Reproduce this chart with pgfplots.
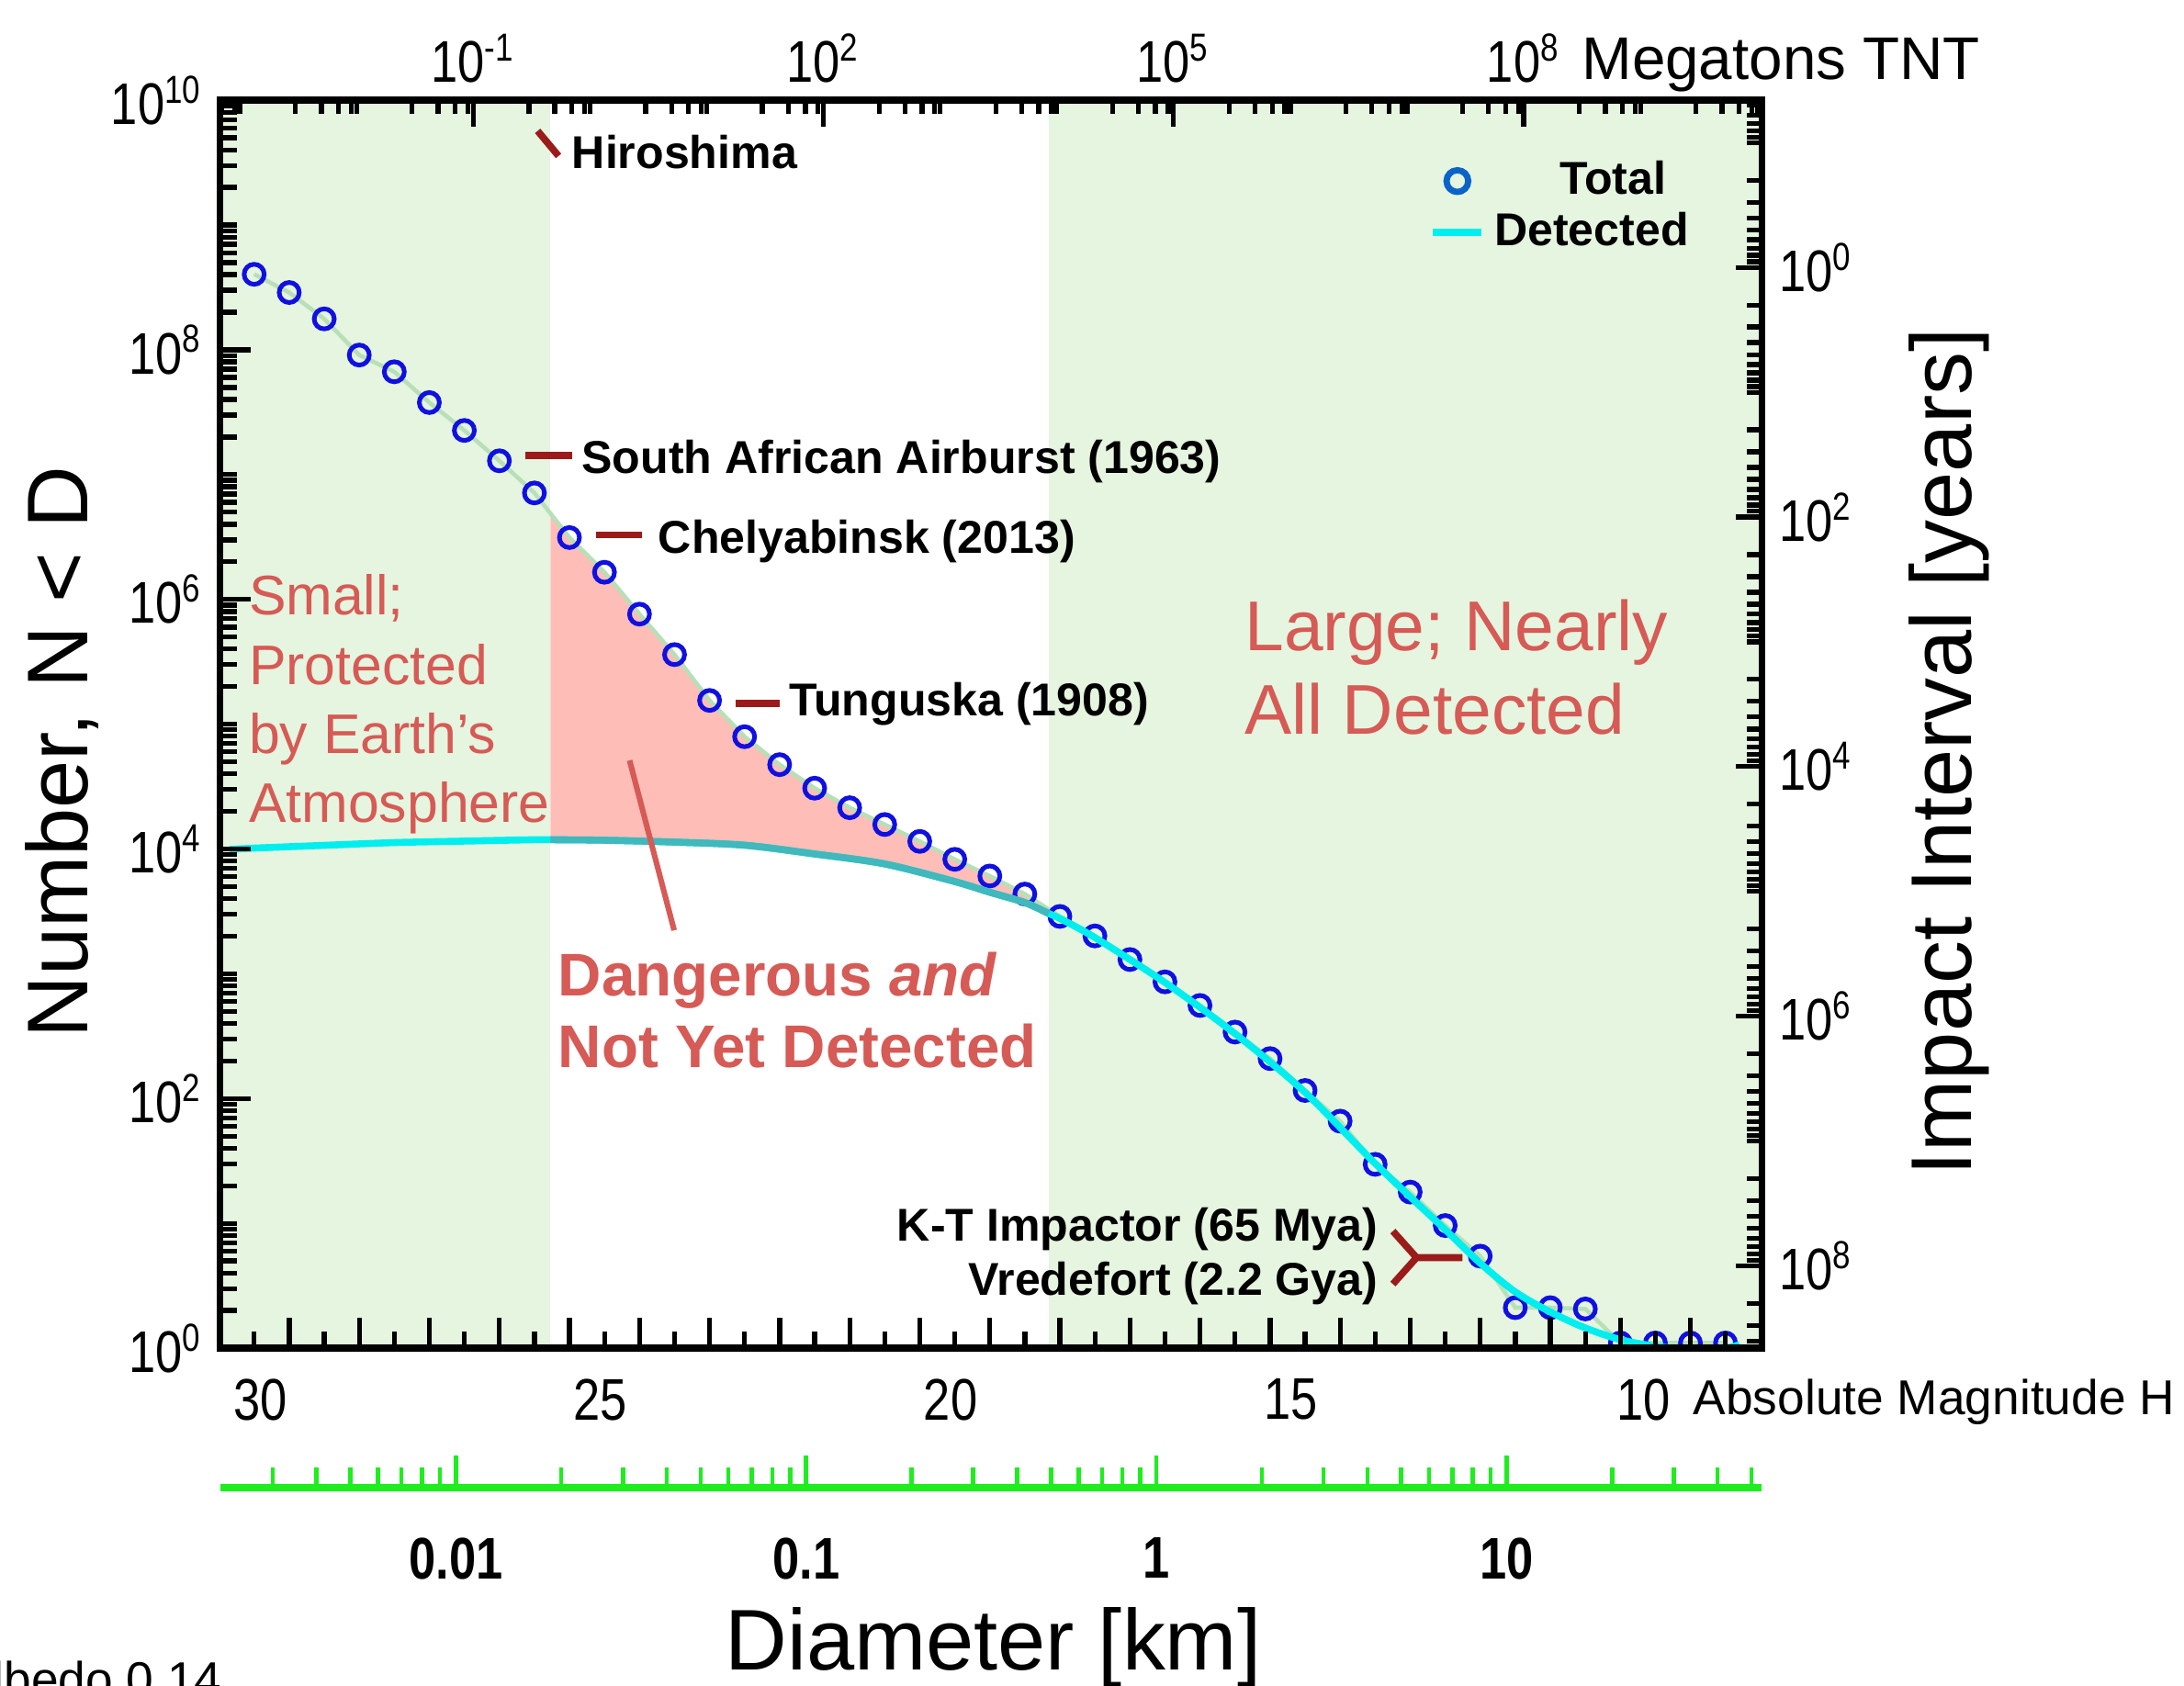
\documentclass[border=0pt]{standalone}
\usepackage{fontspec}
\setmainfont{Liberation Sans}
\newfontfamily\narrowfont[FakeStretch=0.82]{Liberation Sans}
\usepackage{pgfplots}
\pgfplotsset{compat=1.18}
\usepackage{pgfplotstable}

\definecolor{bggreen}{HTML}{E5F5DF}
\definecolor{pinkfill}{HTML}{FFBDB7}
\definecolor{cyanline}{HTML}{00EEEE}
\definecolor{tealline}{HTML}{40B8BC}
\definecolor{markblue}{HTML}{1010E0}
\definecolor{legblue}{HTML}{0A64C8}
\definecolor{totline}{HTML}{B8E0B8}
\definecolor{annred}{HTML}{9B1B1B}
\definecolor{salmon}{HTML}{D65A55}
\definecolor{dgreen}{HTML}{1EEE1E}

\newcommand\tickfont{\narrowfont\fontsize{12}{14}\selectfont}
\newcommand\annfont{\bfseries\fontsize{9.4}{11}\selectfont}

\pgfplotsset{
  markleg/.style={legend image code/.code={\draw[mark repeat=2,mark phase=2,##1,mark size=0.78mm,mark options={draw=legblue,line width=0.45mm}] plot coordinates {(0mm,0mm) (1.8mm,0mm) (3.5mm,0mm)};}},
  lineleg/.style={legend image code/.code={\draw[##1] (0mm,0mm) -- (3.5mm,0mm);}},
}

% total population, N(<D) against absolute magnitude H
\pgfplotstableread{
H N
30.0 4.03e8
29.5 2.88e8
29.0 1.77e8
28.5 9.08e7
28.0 6.67e7
27.5 3.78e7
27.0 2.26e7
26.5 1.29e7
26.0 7.13e6
25.5 3.13e6
25.0 1.65e6
24.5 7.62e5
24.0 3.61e5
23.5 1.55e5
23.0 7.94e4
22.5 4.74e4
22.0 3.07e4
21.5 2.14e4
21.0 1.57e4
20.5 1.15e4
20.0 8260
19.5 6070
19.0 4350
18.5 2880
18.0 2010
17.5 1300
17.0 861
16.5 557
16.0 341
15.5 209
15.0 116
14.5 65.9
14.0 29.7
13.5 17.8
13.0 9.6
12.5 5.46
12.0 2.11
11.5 2.11
11.0 2.06
10.5 1.1
10.0 1.1
9.5 1.1
9.0 1.1
}\totaltab

% detected so far
\pgfplotstableread{
H N
30.35 9900
30.0 10160
29.0 10690
28.0 11250
27.0 11560
26.0 11860
25.77 11860
25.0 11750
24.0 11350
23.0 10720
22.0 9120
21.0 7590
20.0 5480
19.5 4500
19.0 3720
18.66 3040
18.5 2770
18.0 1950
17.0 851
16.0 331
15.0 112
14.0 30.2
13.0 8.9
12.5 4.79
12.0 2.82
11.5 1.95
11.0 1.45
10.5 1.17
10.0 1.035
9.5 0.977
9.0 1.0
8.8 1.07
}\dettab

% the undetected wedge: total from H=25.77 down to 18.5, detected back up
\pgfplotstableread{
H N
25.77 4.89e6
25.5 3.13e6
25.0 1.65e6
24.5 7.62e5
24.0 3.61e5
23.5 1.55e5
23.0 7.94e4
22.5 4.74e4
22.0 3.07e4
21.5 2.14e4
21.0 1.57e4
20.5 1.15e4
20.0 8260
19.5 6070
19.0 4350
18.5 2880
18.5 2770
19.0 3720
19.5 4500
20.0 5480
21.0 7590
22.0 9120
23.0 10720
24.0 11350
25.0 11750
25.77 11860
}\gaptab

% minor tick lists
\def\lyminor{1}
\foreach \k in {0,...,9}{\foreach \m in {2,...,9}{\xdef\lyminor{\lyminor,\m e\k}}\xdef\lyminor{\lyminor,1e\the\numexpr\k+1\relax}}
\def\ryminor{1e-2}
\foreach \k in {-2,...,8}{\foreach \m in {2,...,9}{\xdef\ryminor{\ryminor,\m e\k}}\xdef\ryminor{\ryminor,1e\the\numexpr\k+1\relax}}
\def\tminor{1e-4}
\foreach \k in {-4,...,9}{\foreach \m in {3,5,7,9}{\xdef\tminor{\tminor,\m e\k}}\xdef\tminor{\tminor,1e\the\numexpr\k+1\relax}}
\def\dminor{1e-3}
\foreach \k in {-3,...,1}{\foreach \m in {2,...,9}{\xdef\dminor{\dminor,\m e\k}}}

\begin{document}
\begin{tikzpicture}
% main panel: cumulative number against H
\begin{axis}[
  scale only axis, width=110.7mm, height=89.6mm,
  x dir=reverse, xmin=8.479, xmax=30.487,
  ymode=log, ymin=1, ymax=1e10,
  axis on top, clip marker paths=true,
  axis line style={line width=0.5mm},
  tick style={line width=0.35mm, black},
  major tick length=2.2mm, minor tick length=1.2mm,
  xtick pos=left, ytick pos=left,
  xtick={9.5,10.5,...,29.5}, xticklabels={},
  minor xtick={9,10,...,30},
  ytick={1,1e2,1e4,1e6,1e8,1e10},
  yticklabels={10\textsuperscript{0},10\textsuperscript{2},10\textsuperscript{4},10\textsuperscript{6},10\textsuperscript{8},10\textsuperscript{10}},
  minor ytick/.expanded={\lyminor},
  yticklabel style={font=\tickfont},
  legend style={at={(0.969,0.968)}, anchor=north east, draw=none, fill=none,
    font=\annfont, row sep=-0.65mm},
  legend cell align=left,
]
\addplot[draw=none, fill=bggreen, forget plot] coordinates {(30.6,0.5) (25.77,0.5) (25.77,2e10) (30.6,2e10)};
\addplot[draw=none, fill=bggreen, forget plot] coordinates {(18.66,0.5) (8.3,0.5) (8.3,2e10) (18.66,2e10)};
\addplot[draw=none, fill=pinkfill, forget plot] table[x=H,y=N] {\gaptab};
\addplot[totline, line width=0.3mm, forget plot] table[x=H,y=N] {\totaltab};
\addplot[only marks, mark=o, mark size=0.72mm, mark options={draw=markblue, line width=0.33mm}, markleg]
  table[x=H,y=N] {\totaltab};
\addlegendentry{\hspace*{4.7mm}Total}
\addplot[cyanline, line width=0.5mm, smooth, lineleg]
  table[x=H,y=N] {\dettab};
\addlegendentry{Detected}
\addplot[tealline, line width=0.5mm, smooth, restrict x to domain=18.6:25.8, forget plot]
  table[x=H,y=N] {\dettab};
\end{axis}

% top axis: impact energy
\begin{axis}[
  scale only axis, width=110.7mm, height=89.6mm,
  xmode=log, xmin=6.776e-4, xmax=1.099e10, ymin=0, ymax=1,
  axis x line*=top, axis y line=none, xtick align=inside,
  axis line style={line width=0.5mm},
  tick style={line width=0.35mm, black},
  major tick length=1.9mm, minor tick length=1.0mm,
  xtick={1e-1,1e2,1e5,1e8},
  xticklabels={10\textsuperscript{-1},10\textsuperscript{2},10\textsuperscript{5},10\textsuperscript{8}},
  minor xtick/.expanded={\tminor},
  xticklabel style={font=\tickfont},
]
\end{axis}

% right axis: impact interval
\begin{axis}[
  scale only axis, width=110.7mm, height=89.6mm,
  ymode=log, y dir=reverse, ymin=0.04571, ymax=4.571e8, xmin=0, xmax=1,
  axis y line*=right, axis x line=none, ytick align=inside,
  axis line style={line width=0.5mm},
  tick style={line width=0.35mm, black},
  major tick length=1.9mm, minor tick length=1.1mm,
  ytick={1,1e2,1e4,1e6,1e8},
  yticklabels={10\textsuperscript{0},10\textsuperscript{2},10\textsuperscript{4},10\textsuperscript{6},10\textsuperscript{8}},
  minor ytick/.expanded={\ryminor},
  yticklabel style={font=\tickfont},
]
\end{axis}

% bottom axis: diameter
\begin{axis}[
  scale only axis, width=110.7mm, height=5mm, at={(0,-10mm)}, anchor=south west,
  xmode=log, xmin=2.123e-3, xmax=53.54, ymin=0, ymax=1,
  axis x line*=bottom, axis y line=none, xtick align=inside,
  axis line style={draw=dgreen, line width=0.5mm},
  tick style={draw=dgreen, line width=0.3mm},
  major tick length=2.3mm, minor tick length=1.4mm,
  xtick={0.01,0.1,1,10}, xticklabels={0.01,0.1,1,10},
  minor xtick/.expanded={\dminor},
  xticklabel style={font=\narrowfont\bfseries\fontsize{12}{14}\selectfont, yshift=-2.4mm},
]
\end{axis}

% annotations, in pixel units of the reference
\begin{scope}[shift={(-15.8mm,96.8mm)}, x=0.1mm, y=-0.1mm]
\foreach \lab/\px in {30/187,25/430.8,20/682.5,15/927,10/1180}
  \node[font=\tickfont, inner sep=0pt] at (\px,1005) {\lab};
\node[font=\fontsize{10}{12}\selectfont, anchor=base west, inner sep=0pt] at (1215,1016) {Absolute Magnitude H};
\node[font=\fontsize{12.3}{14}\selectfont, anchor=base west, inner sep=0pt] at (1135,57) {Megatons TNT};
\node[font=\fontsize{17.6}{20}\selectfont, anchor=base, rotate=90, inner sep=0pt] at (63,540) {Number, N < D};
\node[font=\fontsize{17.6}{20}\selectfont, anchor=base, rotate=90, inner sep=0pt] at (1415,540) {Impact Interval [years]};
\node[font=\fontsize{17.6}{20}\selectfont, anchor=base, inner sep=0pt] at (713,1199) {Diameter [km]};
\node[font=\fontsize{10}{12}\selectfont, anchor=base east, inner sep=0pt] at (160,1218) {albedo 0.14};

\draw[annred, line width=0.5mm] (386,94) -- (401,112);
\draw[annred, line width=0.5mm] (377,327) -- (411,327);
\draw[annred, line width=0.5mm] (428,384) -- (461,384);
\draw[annred, line width=0.5mm] (528,505) -- (560,505);
\draw[annred, line width=0.5mm] (1000,884) -- (1017,903) -- (1000,922) (1017,903) -- (1050,903);
\node[font=\annfont, anchor=base west, inner sep=0pt] at (410,121) {Hiroshima};
\node[font=\annfont, anchor=base west, inner sep=0pt] at (417,340) {South African Airburst (1963)};
\node[font=\annfont, anchor=base west, inner sep=0pt] at (472,397) {Chelyabinsk (2013)};
\node[font=\annfont, anchor=base west, inner sep=0pt] at (566,514) {Tunguska (1908)};
\node[font=\annfont, anchor=base east, inner sep=0pt] at (990,891) {K-T Impactor (65 Mya)};
\node[font=\annfont, anchor=base east, inner sep=0pt] at (990,930) {Vredefort (2.2 Gya)};

\node[font=\fontsize{11.4}{14.1}\selectfont, text=salmon, anchor=north west, align=left, inner sep=0pt] at (178,412)
  {Small;\\Protected\\by Earth’s\\Atmosphere};
\node[font=\fontsize{14.4}{17}\selectfont, text=salmon, anchor=north west, align=left, inner sep=0pt] at (893,430)
  {Large; Nearly\\All Detected};
\node[font=\bfseries\fontsize{12.3}{14.7}\selectfont, text=salmon, anchor=north west, align=left, inner sep=0pt] at (400,683)
  {Dangerous \textit{and}\\Not Yet Detected};
\draw[salmon, line width=0.4mm] (452,546) -- (484,668);
\end{scope}
\pgfresetboundingbox
\path[use as bounding box] (-15.8mm,-24.2mm) rectangle (141mm,96.8mm);
\end{tikzpicture}
\end{document}
